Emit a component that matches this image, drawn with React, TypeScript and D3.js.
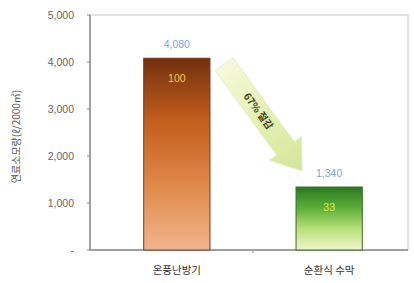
import React from 'react';
import * as d3 from 'd3';

const categories = ['온풍난방기', '순환식 수막'];
const fuelValues = [4080, 1340];
const valueLabels = ['4,080', '1,340'];
const indexLabels = ['100', '33'];
const yTicks = [0, 1000, 2000, 3000, 4000, 5000];
const arrowLabel = '67% 절감';
const yTitle = '연료소모량(ℓ/2000㎡)';

const W = 414;
const H = 283;
const margin = { top: 15, right: 6, bottom: 33, left: 90 };

const App = () => {
    const x = d3
        .scaleBand<string>()
        .domain(categories)
        .range([98, W - margin.right])
        .paddingInner(0.565)
        .paddingOuter(0.3);
    const y = d3
        .scaleLinear()
        .domain([0, 5000])
        .range([H - margin.bottom, margin.top]);
    const bw = x.bandwidth();
    const fmt = (v: number) => (v === 0 ? '-' : d3.format(',')(v));

    // arrow from first bar top toward second bar top
    const ax0 = (x(categories[0]) as number) + bw + 14;
    const ay0 = y(fuelValues[0]) + 6;
    const ax1 = (x(categories[1]) as number) + 6;
    const ay1 = y(fuelValues[1]) - 16;
    const len = Math.hypot(ax1 - ax0, ay1 - ay0);
    const ang = (Math.atan2(ay1 - ay0, ax1 - ax0) * 180) / Math.PI;
    const shaft = 11;
    const head = 20;
    const headLen = 28;
    const arrowPath = d3.path();
    arrowPath.moveTo(0, -shaft);
    arrowPath.lineTo(len - headLen, -shaft);
    arrowPath.lineTo(len - headLen, -head);
    arrowPath.lineTo(len, 0);
    arrowPath.lineTo(len - headLen, head);
    arrowPath.lineTo(len - headLen, shaft);
    arrowPath.lineTo(0, shaft);
    arrowPath.closePath();

    const barGrads = [
        ['#73300f', '#c45e1d', '#e08a4a', '#f2b48c'],
        ['#267a1e', '#5cae38', '#b9e07a', '#eef8cc'],
    ];
    const borders = ['#7a3a1a', '#3d6b2a'];
    const innerColors = ['#f2c84a', '#e4e640'];

    return (
        <svg width={W} height={H} style={{ position: 'absolute', left: 0, top: 0, background: '#fff' }}>
            <defs>
                {barGrads.map((g, i) => (
                    <linearGradient key={i} id={`bar${i}`} x1="0" y1="0" x2="0" y2="1">
                        {g.map((c, j) => (
                            <stop key={j} offset={j / (g.length - 1)} stopColor={c} />
                        ))}
                    </linearGradient>
                ))}
                <linearGradient id="arrowGrad" x1="0" y1="0" x2="1" y2="0">
                    <stop offset="0" stopColor="#f6f9dc" />
                    <stop offset="0.5" stopColor="#e6f0b2" />
                    <stop offset="1" stopColor="#d3e69c" />
                </linearGradient>
            </defs>

            {/* frame */}
            <rect
                x={margin.left}
                y={margin.top}
                width={W - margin.right - margin.left}
                height={H - margin.bottom - margin.top}
                fill="none"
                stroke="#c8c8c8"
                strokeWidth={1}
            />
            <line x1={margin.left} x2={margin.left} y1={margin.top} y2={y(0)} stroke="#8a8a8a" strokeWidth={1.5} />
            <line x1={margin.left} x2={W - margin.right} y1={y(0)} y2={y(0)} stroke="#8a8a8a" strokeWidth={1.5} />

            {yTicks.map((t) => (
                <g key={t}>
                    <line x1={margin.left - 3} x2={margin.left} y1={y(t)} y2={y(t)} stroke="#8a8a8a" />
                    <text
                        x={margin.left - 16}
                        y={y(t)}
                        dy="0.35em"
                        textAnchor="end"
                        fontFamily="Liberation Sans, Arial, sans-serif"
                        fontSize={10.5}
                        fill="#666"
                    >
                        {fmt(t)}
                    </text>
                </g>
            ))}
            <line
                x1={((x(categories[0]) as number) + bw + (x(categories[1]) as number)) / 2}
                x2={((x(categories[0]) as number) + bw + (x(categories[1]) as number)) / 2}
                y1={y(0)}
                y2={y(0) + 3}
                stroke="#8a8a8a"
            />

            <text
                transform={`translate(20,${(margin.top + y(0)) / 2 + 4}) rotate(-90)`}
                textAnchor="middle"
                fontFamily="Noto Sans CJK KR, sans-serif"
                fontSize={10}
                fill="#555"
            >
                {yTitle}
            </text>

            {categories.map((c, i) => {
                const bx = x(c) as number;
                const by = y(fuelValues[i]);
                return (
                    <g key={c}>
                        <rect
                            x={bx}
                            y={by}
                            width={bw}
                            height={y(0) - by}
                            fill={`url(#bar${i})`}
                            stroke={borders[i]}
                            strokeWidth={1}
                        />
                        <text
                            x={bx + bw / 2}
                            y={by - 10}
                            textAnchor="middle"
                            fontFamily="Liberation Sans, Arial, sans-serif"
                            fontSize={10.5}
                            fill="#7ea4d6"
                        >
                            {valueLabels[i]}
                        </text>
                        <text
                            x={bx + bw / 2}
                            y={by + 24}
                            textAnchor="middle"
                            fontFamily="Liberation Sans, Arial, sans-serif"
                            fontSize={10.5}
                            fill={innerColors[i]}
                        >
                            {indexLabels[i]}
                        </text>
                        <text
                            x={bx + bw / 2}
                            y={y(0) + 24}
                            textAnchor="middle"
                            fontFamily="Noto Sans CJK KR, sans-serif"
                            fontSize={10.5}
                            fill="#333"
                        >
                            {c}
                        </text>
                    </g>
                );
            })}

            <g transform={`translate(${ax0},${ay0}) rotate(${ang})`}>
                <path d={arrowPath.toString()} fill="url(#arrowGrad)" stroke="#e3edc0" strokeWidth={0.8} />
                <text
                    x={(len - headLen) / 2 + 6}
                    y={0}
                    dy="0.35em"
                    textAnchor="middle"
                    fontFamily="Noto Sans CJK KR, sans-serif"
                    fontWeight="bold"
                    fontSize={10}
                    fill="#3b4620"
                >
                    {arrowLabel}
                </text>
            </g>
        </svg>
    );
};

export default App;
